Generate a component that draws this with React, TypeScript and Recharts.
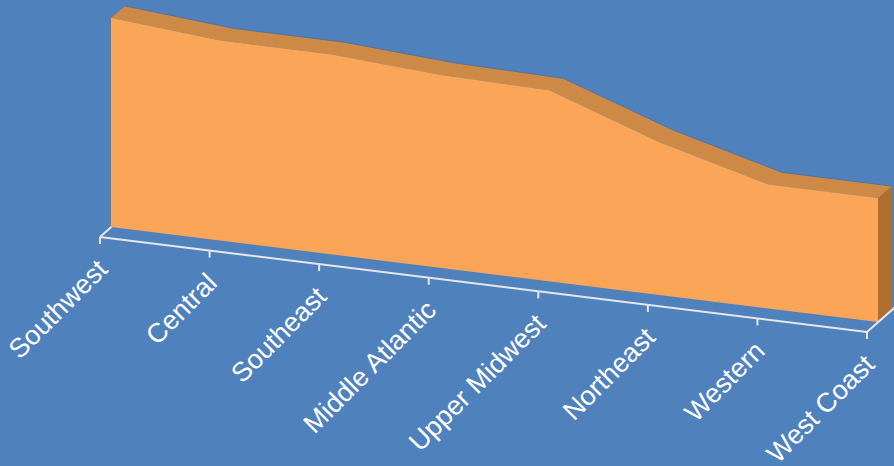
import React from 'react';
import { AreaChart, Area, XAxis, YAxis } from 'recharts';

// Regional sales, drawn as a single extruded area on a slanted floor.
const regions = [
  'Southwest',
  'Central',
  'Southeast',
  'Middle Atlantic',
  'Upper Midwest',
  'Northeast',
  'Western',
  'West Coast',
];
const sales = [209, 200, 200, 193, 191, 153, 124, 124];
const yDomain = [0, 220];

const data = regions.map((region, i) => ({ region, sales: sales[i] }));

const WIDTH = 894;
const HEIGHT = 466;
const AXIS_HEIGHT = 30;
const MARGIN = { top: 7, right: 16, bottom: 466 - 227 - AXIS_HEIGHT, left: 111 };

// oblique projection: floor slant, extrusion depth and floor offset
const SLOPE = 0.124;
const DEPTH = { x: 14, y: -12 };
const FLOOR = { x: -11, y: 10 };
const TICK_LEN = 7;
const LABEL = { dx: 9, dy: 34 };

const COLORS = {
  bg: '#4F81BD',
  front: '#FAA557',
  top: '#CD8A46',
  side: '#AD6F30',
  edge: '#4A6A98',
  floor: '#E6E6E6',
  text: '#FFFFFF',
};

const slant = (x: number, y: number) => ({ x, y: y + SLOPE * (x - MARGIN.left) });
const shift = (p: { x: number; y: number }, d: { x: number; y: number }) => ({ x: p.x + d.x, y: p.y + d.y });
const toPath = (pts: { x: number; y: number }[], close = true) =>
  pts.map((p, i) => `${i ? 'L' : 'M'}${p.x.toFixed(2)},${p.y.toFixed(2)}`).join('') + (close ? 'Z' : '');

// Draws the whole extruded solid once, from the points computed by the Area.
function Solid(props: any) {
  const { index, points } = props;
  if (index !== 0 || !points || points.length < 2) return null;
  const val = (p: any) => (Array.isArray(p.value) ? p.value[1] : p.value);
  const a = points[0];
  let b = points[1];
  for (const p of points) if (Math.abs(val(p) - val(a)) > Math.abs(val(b) - val(a))) b = p;
  const k = (b.y - a.y) / (val(b) - val(a));
  const y0 = a.y - k * val(a);

  const topFront = points.map((p: any) => slant(p.x, p.y));
  const topBack = topFront.map((p: any) => shift(p, DEPTH));
  const last = points[points.length - 1];
  const baseL = slant(a.x, y0);
  const baseR = slant(last.x, y0);
  const frTopR = topFront[topFront.length - 1];

  const floorL = shift(baseL, FLOOR);
  const floorR = shift(baseR, FLOOR);
  const diag = { x: -FLOOR.x * 2 + DEPTH.x, y: -FLOOR.y * 2 + DEPTH.y };

  return (
    <g>
      <line x1={floorL.x} y1={floorL.y} x2={floorR.x} y2={floorR.y} stroke={COLORS.floor} strokeWidth={2} />
      <line x1={floorL.x} y1={floorL.y} x2={floorL.x + diag.x} y2={floorL.y + diag.y} stroke={COLORS.floor} strokeWidth={2} />
      <path d={toPath([frTopR, shift(frTopR, DEPTH), shift(baseR, DEPTH), baseR])} fill={COLORS.side} />
      <path d={toPath([...topFront, ...topBack.slice().reverse()])} fill={COLORS.top} />
      <path d={toPath(topBack, false)} fill="none" stroke={COLORS.edge} strokeWidth={1} strokeOpacity={0.7} />
      <path d={toPath([...topFront, baseR, baseL])} fill={COLORS.front} />
      <line x1={floorR.x} y1={floorR.y} x2={floorR.x + diag.x} y2={floorR.y + diag.y} stroke={COLORS.floor} strokeWidth={2} />
    </g>
  );
}

function RegionTick(props: any) {
  const { x, y, payload } = props;
  const fx = x + FLOOR.x;
  const fy = y + SLOPE * (x - MARGIN.left) + FLOOR.y;
  const lx = fx + LABEL.dx;
  const ly = fy + LABEL.dy;
  return (
    <g>
      <line x1={fx} y1={fy} x2={fx} y2={fy + TICK_LEN} stroke={COLORS.floor} strokeWidth={2} />
      <text
        x={lx}
        y={ly}
        transform={`rotate(-45 ${lx} ${ly})`}
        textAnchor="end"
        fill={COLORS.text}
        fontSize={27}
        fontFamily="'Liberation Sans', Arial, sans-serif"
      >
        {payload.value}
      </text>
    </g>
  );
}

export default function App() {
  return (
    <div style={{ width: WIDTH, height: HEIGHT, background: COLORS.bg, overflow: 'hidden' }}>
      <style>{'body{margin:0}'}</style>
      <AreaChart width={WIDTH} height={HEIGHT} data={data} margin={MARGIN}>
        <XAxis
          dataKey="region"
          height={AXIS_HEIGHT}
          axisLine={false}
          tickLine={false}
          tickSize={0}
          tickMargin={0}
          interval={0}
          tick={<RegionTick />}
        />
        <YAxis hide domain={yDomain} />
        <Area
          type="linear"
          dataKey="sales"
          stroke="none"
          fill="none"
          dot={<Solid />}
          activeDot={false}
          isAnimationActive={false}
        />
      </AreaChart>
    </div>
  );
}
